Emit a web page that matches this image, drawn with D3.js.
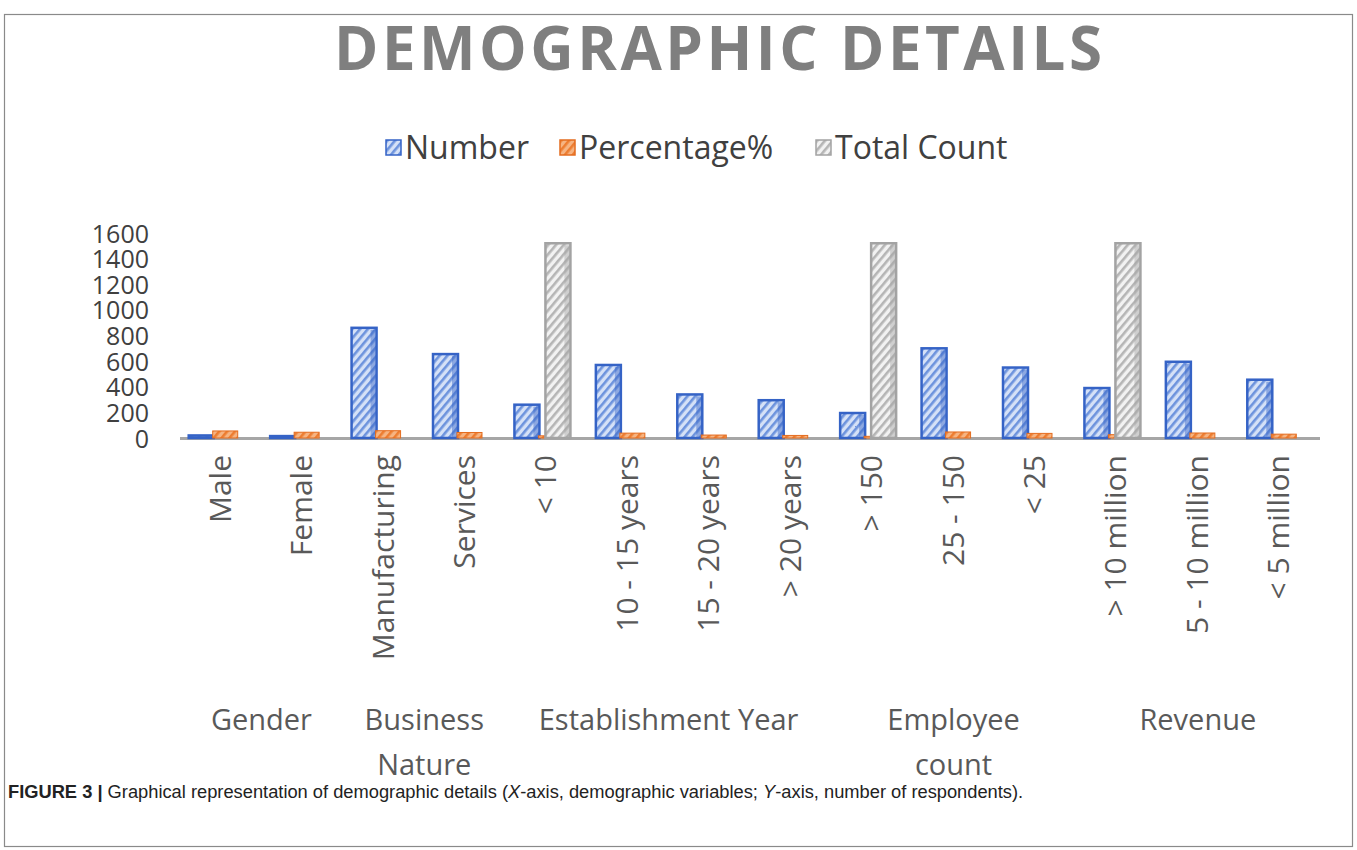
<!DOCTYPE html>
<html>
<head>
<meta charset="utf-8">
<script src="https://cdn.jsdelivr.net/npm/d3@7"></script>
<style>
  body { margin: 0; background: #fff; }
  svg text { font-family: "Open Sans", sans-serif; }
</style>
</head>
<body>
<svg width="1357" height="850"></svg>
<script>
// ---------------- data ----------------
var categories = ["Male", "Female", "Manufacturing", "Services", "< 10", "10 - 15 years",
                  "15 - 20 years", "> 20 years", "> 150", "25 - 150", "< 25",
                  "> 10 million", "5 - 10 million", "< 5 million"];
var number      = [20, 15, 860, 655, 260, 570, 340, 295, 195, 700, 550, 390, 595, 455];
var percentage  = [55, 45, 57, 43, 17, 38, 23, 20, 13, 47, 36, 26, 39, 30];
var totalCount  = [0, 0, 0, 0, 1520, 0, 0, 0, 1520, 0, 0, 1520, 0, 0];
var series = ["Number", "Percentage%", "Total Count"];
var groups = [
    {name: ["Gender"], from: 0, to: 1},
    {name: ["Business", "Nature"], from: 2, to: 3},
    {name: ["Establishment Year"], from: 4, to: 7},
    {name: ["Employee", "count"], from: 8, to: 10},
    {name: ["Revenue"], from: 11, to: 13}
];
var yTicks = [0, 200, 400, 600, 800, 1000, 1200, 1400, 1600];

var colors = {
    "Number":      {stroke: "#3563c6", bg: "#d5e1f7", line: "#6d93dd"},
    "Percentage%": {stroke: "#e46c1f", bg: "#f6b482", line: "#ed7d31"},
    "Total Count": {stroke: "#a3a3a3", bg: "#f2f2f2", line: "#b5b5b5"}
};

var svg = d3.select("svg");

// frame
svg.append("rect")
   .attr("x", 4.5).attr("y", 14.5)
   .attr("width", 1348).attr("height", 832)
   .style("fill", "none").style("stroke", "#8a8a8a").style("stroke-width", 1.2);

// hatch patterns
var defs = svg.append("defs");
series.forEach(function(s, i){
    var c = colors[s];
    var p = defs.append("pattern")
        .attr("id", "hatch" + i)
        .attr("patternUnits", "userSpaceOnUse")
        .attr("width", 6).attr("height", 6)
        .attr("patternTransform", "rotate(40)");
    p.append("rect").attr("width", 6).attr("height", 6).style("fill", c.bg);
    p.append("rect").attr("width", 2.6).attr("height", 6).style("fill", c.line);
});

// title
svg.append("text")
   .attr("x", 718).attr("y", 70)
   .attr("text-anchor", "middle")
   .attr("textLength", 768)
   .style("font-size", "60px")
   .style("font-weight", "bold")
   .style("fill", "#7f7f7f")
   .text("DEMOGRAPHIC DETAILS");

// legend
var legendX = [386, 560, 816];
var legend = svg.selectAll("g.legend")
    .data(series)
    .enter().append("g")
    .attr("class", "legend")
    .attr("transform", function(d, i){ return "translate(" + legendX[i] + ",140)"; });
legend.append("rect")
    .attr("width", 15).attr("height", 15)
    .style("fill", function(d, i){ return "url(#hatch" + i + ")"; })
    .style("stroke", function(d){ return colors[d].stroke; })
    .style("stroke-width", 1.5);
legend.append("text")
    .attr("x", 19).attr("y", 19)
    .style("font-size", "32px")
    .style("fill", "#404040")
    .text(function(d){ return d; });

// scales
var x = d3.scaleBand()
    .domain(categories)
    .range([180, 1320]);
var y = d3.scaleLinear()
    .domain([0, 1600])
    .range([438, 233]);
// offset of each series bar from the category centre
var x1 = d3.scaleOrdinal()
    .domain(series)
    .range([-32, -8, -1]);
var barW = 25;

// y axis labels
var yAxis = d3.axisLeft(y).tickValues(yTicks).tickSize(0).tickPadding(0)
    .tickFormat(d3.format("d"));
var ya = svg.append("g")
    .attr("transform", "translate(149,0)")
    .call(yAxis);
ya.select(".domain").remove();
ya.selectAll("text")
  .attr("dy", "0.36em")
  .style("font-size", "25px")
  .style("font-family", "'Open Sans', sans-serif")
  .style("fill", "#404040");

// baseline
svg.append("line")
   .attr("x1", 180).attr("x2", 1320)
   .attr("y1", y(0) + 0.5).attr("y2", y(0) + 0.5)
   .style("stroke", "#a6a6a6").style("stroke-width", 3);

// bars
var seriesData = [number, percentage, totalCount];
seriesData.forEach(function(vals, si){
    var s = series[si];
    var g = svg.append("g");
    var bars = g.selectAll("rect")
        .data(vals.map(function(v, i){ return {cat: categories[i], v: v}; })
                  .filter(function(d){ return d.v > 0; }))
        .enter();
    bars.append("rect")
        .attr("x", function(d){ return x(d.cat) + x.bandwidth() / 2 + x1(s); })
        .attr("y", function(d){ return y(d.v); })
        .attr("width", barW)
        .attr("height", function(d){ return y(0) - y(d.v); })
        .style("fill", "url(#hatch" + si + ")")
        .style("stroke", colors[s].stroke)
        .style("stroke-width", si == 1 ? 1 : 2.5);
    if(si != 1){
        // darker side face for 3D look
        bars.append("rect")
            .attr("x", function(d){ return x(d.cat) + x.bandwidth() / 2 + x1(s) + barW - 6; })
            .attr("y", function(d){ return y(d.v) + 2; })
            .attr("width", 5)
            .attr("height", function(d){ return Math.max(0, y(0) - y(d.v) - 2); })
            .style("fill", colors[s].stroke)
            .style("opacity", 0.45);
    }
});

// category labels (rotated)
svg.selectAll("text.cat")
   .data(categories)
   .enter().append("text")
   .attr("class", "cat")
   .attr("transform", function(d){
        return "translate(" + (x(d) + x.bandwidth() / 2 + 10) + ",455) rotate(-90)";
   })
   .attr("text-anchor", "end")
   .style("font-size", "30px")
   .style("fill", "#595959")
   .text(function(d){ return d; });

// group labels
var gl = svg.selectAll("text.grp")
   .data(groups)
   .enter().append("text")
   .attr("class", "grp")
   .attr("text-anchor", "middle")
   .attr("x", function(d){
        return (x(categories[d.from]) + x(categories[d.to]) + x.bandwidth()) / 2;
   })
   .attr("y", 730)
   .style("font-size", "29px")
   .style("fill", "#595959");
gl.selectAll("tspan")
   .data(function(d){ return d.name; })
   .enter().append("tspan")
   .attr("x", function(){ return d3.select(this.parentNode).attr("x"); })
   .attr("dy", function(d, i){ return i == 0 ? 0 : 45; })
   .text(function(d){ return d; });

// caption
var cap = svg.append("text")
   .attr("x", 8).attr("y", 798)
   .style("font-family", "'Liberation Sans', Arial, sans-serif")
   .style("font-size", "18.3px")
   .style("fill", "#222");
cap.append("tspan").style("font-weight", "bold").text("FIGURE 3 | ");
cap.append("tspan").text("Graphical representation of demographic details (");
cap.append("tspan").style("font-style", "italic").text("X");
cap.append("tspan").text("-axis, demographic variables; ");
cap.append("tspan").style("font-style", "italic").text("Y");
cap.append("tspan").text("-axis, number of respondents).");
</script>
</body>
</html>
